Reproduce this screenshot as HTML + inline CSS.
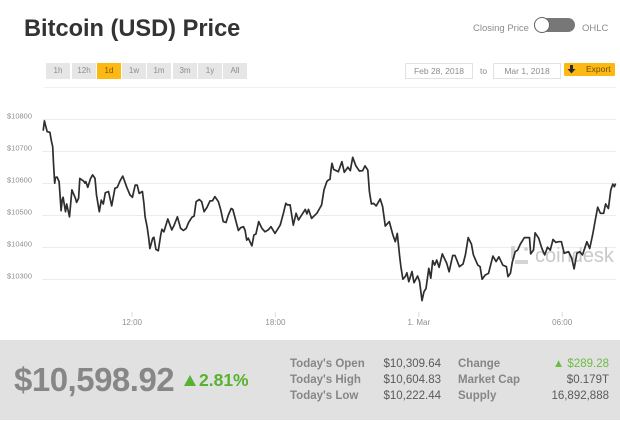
<!DOCTYPE html>
<html>
<head>
<meta charset="utf-8">
<style>
html,body{margin:0;padding:0;background:#fff;}
#page{position:relative;width:620px;height:421px;overflow:hidden;background:#fff;font-family:"Liberation Sans",sans-serif;}
#page div{position:absolute;white-space:nowrap;}
.rng{top:63px;width:24px;height:16px;background:#e6e6e6;color:#8c8c8c;font-size:8px;line-height:16px;text-align:center;}
.dt{top:63px;width:66px;height:14px;border:1px solid #e2e2e2;color:#8c8c8c;font-size:8.5px;line-height:14px;text-align:center;}
.lbl{font-size:11.5px;font-weight:bold;color:#868686;line-height:14px;}
.val{font-size:11.5px;color:#5a5a5a;line-height:14px;text-align:right;}
</style>
</head>
<body>
<div id="page">
  <div style="left:24px;top:14px;font-size:23.6px;font-weight:bold;color:#333;line-height:30px;">Bitcoin (USD) Price</div>

  <div style="left:473px;top:23px;font-size:9.5px;color:#8c8c8c;line-height:12px;">Closing Price</div>
  <div style="left:534px;top:18px;width:41px;height:14px;border-radius:7px;background:#777;"></div>
  <div style="left:534px;top:17px;width:14px;height:14px;border-radius:50%;background:#fff;border:1.5px solid #666;"></div>
  <div style="left:582px;top:23px;font-size:9.5px;color:#8c8c8c;line-height:12px;">OHLC</div>

  <div class="rng" style="left:46px;">1h</div>
  <div class="rng" style="left:72px;">12h</div>
  <div class="rng" style="left:97px;background:#fdb813;color:#7a5a00;">1d</div>
  <div class="rng" style="left:122px;">1w</div>
  <div class="rng" style="left:147px;">1m</div>
  <div class="rng" style="left:173px;">3m</div>
  <div class="rng" style="left:198px;">1y</div>
  <div class="rng" style="left:223px;">All</div>

  <div class="dt" style="left:405px;">Feb 28, 2018</div>
  <div style="left:480px;top:64px;font-size:8.5px;color:#8c8c8c;line-height:14px;">to</div>
  <div class="dt" style="left:493px;">Mar 1, 2018</div>
  <div style="left:564px;top:63px;width:51px;height:13px;background:#fdb813;border-radius:1px;color:#6b5200;font-size:8.5px;line-height:13px;">
    <svg width="9" height="9" style="position:absolute;left:3px;top:2px;"><path d="M3 0H6V4H8.5L4.5 8.5L0.5 4H3Z" fill="#2a2a2a"></path></svg>
    <span style="position:absolute;left:22px;top:0;">Export</span>
  </div>

  <svg id="chart" width="620" height="340" style="position:absolute;left:0;top:0;">
    <line x1="44" x2="616" y1="87.5" y2="87.5" stroke="#f0f0f0"></line>
    <g id="grid"></g>
    <g id="xaxis"></g>
    <g>
      <text x="535" y="262" font-family="Liberation Sans, sans-serif" font-size="20" fill="#c9c9c9">coindesk</text>
      <rect x="511" y="246" width="4" height="13" fill="#d4d4d4"></rect>
      <rect x="515" y="260" width="13" height="4" fill="#d4d4d4"></rect>
      <circle cx="526" cy="249" r="2" fill="#d4d4d4"></circle>
    </g>
    <path id="line" fill="none" stroke="#2e2e2e" stroke-width="1.7" stroke-linejoin="round"></path>
  </svg>

  <div style="left:0;top:340px;width:620px;height:80px;background:#e1e1e1;"></div>
  <div style="left:14px;top:359px;font-size:33px;font-weight:bold;color:#878787;line-height:42px;letter-spacing:-0.5px;">$10,598.92</div>
  <div style="left:184px;top:375px;width:0;height:0;border-left:6px solid transparent;border-right:6px solid transparent;border-bottom:11px solid #57b22f;"></div>
  <div style="left:199px;top:369px;font-size:17.5px;font-weight:bold;color:#57b22f;line-height:22px;">2.81%</div>

  <div class="lbl" style="left:290px;top:357px;">Today's Open</div>
  <div class="lbl" style="left:290px;top:373px;">Today's High</div>
  <div class="lbl" style="left:290px;top:389px;">Today's Low</div>
  <div class="val" style="right:179px;top:357px;">$10,309.64</div>
  <div class="val" style="right:179px;top:373px;">$10,604.83</div>
  <div class="val" style="right:179px;top:389px;">$10,222.44</div>
  <div class="lbl" style="left:458px;top:357px;">Change</div>
  <div class="lbl" style="left:458px;top:373px;">Market Cap</div>
  <div class="lbl" style="left:458px;top:389px;">Supply</div>
  <div class="val" style="right:11px;top:357px;color:#6dbb45;">&#9650; $289.28</div>
  <div class="val" style="right:11px;top:373px;">$0.179T</div>
  <div class="val" style="right:11px;top:389px;">16,892,888</div>
</div>
<script>
var yTickValues = [10800, 10700, 10600, 10500, 10400, 10300];
var xTickMinutes = [720, 1080, 1440, 1800];
var xTickLabels = ["12:00", "18:00", "1. Mar", "06:00"];
// minutes since Feb 28 00:00
var minutes = [497,500,504,507,514,518,521,523,526,528,532,537,542,545,547,553,556,563,569,578,581,586,589,598,602,604,609,616,621,627,631,638,643,648,653,661,669,677,683,690,697,707,715,721,728,733,738,746,750,753,758,762,765,772,775,780,786,792,795,800,810,820,826,834,842,849,856,862,870,876,881,889,895,901,908,916,922,928,937,943,949,956,962,969,973,979,987,993,1000,1004,1008,1012,1021,1026,1031,1038,1046,1054,1062,1069,1079,1092,1100,1106,1110,1117,1125,1132,1138,1146,1155,1159,1163,1171,1184,1191,1196,1202,1209,1213,1217,1220,1222,1226,1238,1247,1253,1262,1268,1274,1282,1291,1299,1305,1312,1316,1321,1326,1333,1343,1349,1356,1366,1375,1381,1386,1392,1395,1400,1406,1410,1415,1423,1428,1437,1442,1448,1453,1458,1465,1470,1475,1480,1485,1491,1499,1510,1516,1525,1531,1542,1551,1557,1564,1572,1577,1588,1594,1599,1607,1615,1626,1634,1641,1651,1660,1664,1670,1675,1682,1688,1695,1705,1718,1721,1728,1732,1741,1749,1756,1763,1770,1777,1784,1791,1798,1805,1816,1824,1830,1837,1844,1851,1862,1869,1877,1883,1889,1896,1904,1909,1916,1922,1927,1931,1934];
var prices = [10765,10796,10776,10762,10760,10731,10715,10663,10601,10619,10620,10606,10515,10551,10557,10512,10536,10496,10580,10554,10541,10554,10616,10608,10601,10606,10588,10616,10627,10616,10564,10512,10548,10536,10571,10575,10530,10585,10588,10608,10623,10588,10564,10557,10595,10595,10569,10575,10538,10496,10465,10430,10397,10429,10432,10394,10390,10439,10457,10449,10489,10455,10470,10496,10460,10453,10460,10478,10494,10498,10543,10550,10543,10512,10525,10546,10546,10559,10543,10517,10481,10478,10502,10522,10519,10491,10453,10462,10465,10453,10423,10429,10405,10439,10442,10481,10460,10449,10455,10465,10444,10470,10507,10538,10533,10533,10470,10507,10486,10502,10519,10505,10519,10491,10507,10522,10533,10580,10606,10611,10613,10647,10663,10644,10637,10668,10635,10651,10640,10682,10655,10639,10640,10655,10642,10575,10536,10538,10530,10552,10528,10467,10481,10439,10418,10444,10371,10340,10301,10309,10321,10293,10325,10290,10311,10293,10234,10262,10272,10335,10304,10359,10345,10361,10338,10380,10351,10324,10375,10375,10340,10348,10377,10431,10411,10377,10345,10340,10301,10314,10319,10373,10356,10371,10345,10340,10309,10319,10356,10387,10392,10411,10431,10431,10380,10392,10446,10429,10397,10377,10401,10392,10425,10416,10418,10418,10382,10387,10366,10333,10382,10387,10377,10418,10397,10444,10486,10526,10507,10507,10536,10522,10580,10598,10590,10600];

var NS = "http://www.w3.org/2000/svg";
function xScale(m) { return 132 + (m - 720) * 143.4 / 360; }
function yScale(p) { return 119.5 + (10800 - p) * 0.32; }

var gridGroup = document.getElementById("grid");
yTickValues.forEach(function (v) {
  var l = document.createElementNS(NS, "line");
  
  
  l.setAttribute("x1", 42);
  l.setAttribute("x2", 616);
  l.setAttribute("y1", yScale(v));
  l.setAttribute("y2", yScale(v));
  l.setAttribute("stroke", "#ececec");
  gridGroup.appendChild(l);
  var t = document.createElementNS(NS, "text");
  
  
  t.setAttribute("x", 7);
  t.setAttribute("y", yScale(v) - 1);
  t.setAttribute("font-size", "7.5");
  t.setAttribute("font-family", "Liberation Sans, sans-serif");
  t.setAttribute("fill", "#8f8f8f");
  t.textContent = "$" + v;
  gridGroup.appendChild(t);
});

var xGroup = document.getElementById("xaxis");
xTickMinutes.forEach(function (m, i) {
  var k = document.createElementNS(NS, "line");
  
  
  k.setAttribute("x1", xScale(m));
  k.setAttribute("x2", xScale(m));
  k.setAttribute("y1", 312);
  k.setAttribute("y2", 317);
  k.setAttribute("stroke", "#dcdcdc");
  xGroup.appendChild(k);
  var t = document.createElementNS(NS, "text");
  
  
  t.setAttribute("x", xScale(m));
  t.setAttribute("y", 325);
  t.setAttribute("text-anchor", "middle");
  t.setAttribute("font-size", "8");
  t.setAttribute("font-family", "Liberation Sans, sans-serif");
  t.setAttribute("fill", "#8f8f8f");
  t.textContent = xTickLabels[i];
  xGroup.appendChild(t);
});

var d = "";
for (var i = 0; i < minutes.length; i++) {
  d += (i ? "L" : "M") + xScale(minutes[i]).toFixed(1) + " " + yScale(prices[i]).toFixed(1);
}
document.getElementById("line").setAttribute("d", d);
</script>
</body>
</html>
